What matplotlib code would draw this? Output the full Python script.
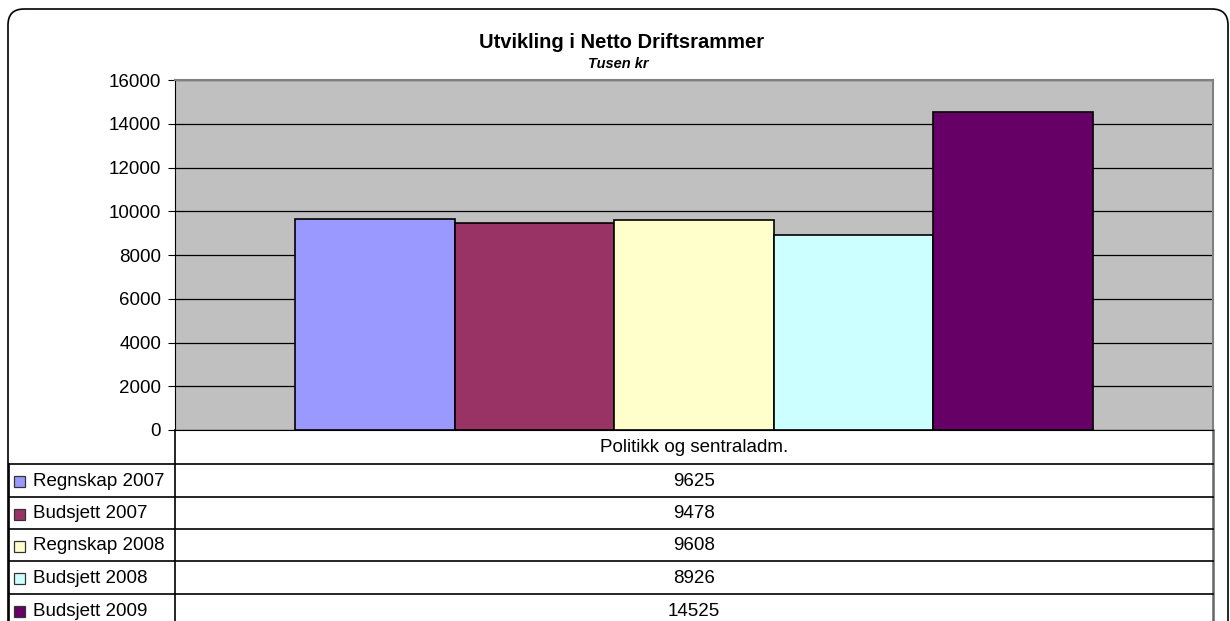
import matplotlib
matplotlib.use("Agg")
import matplotlib.pyplot as plt
from matplotlib.patches import FancyBboxPatch, Rectangle

plt.rcParams['font.family'] = ['Liberation Sans', 'DejaVu Sans']

category = "Politikk og sentraladm."
series = ["Regnskap 2007", "Budsjett 2007", "Regnskap 2008", "Budsjett 2008", "Budsjett 2009"]
values = [9625, 9478, 9608, 8926, 14525]
colors = ["#9999FF", "#993366", "#FFFFCC", "#CCFFFF", "#660066"]
yticks = [0, 2000, 4000, 6000, 8000, 10000, 12000, 14000, 16000]
title = "Utvikling i Netto Driftsrammer"
subtitle = "Tusen kr"

W, H = 1230, 621
fig = plt.figure(figsize=(W / 100, H / 100), dpi=100)

# overlay in pixel coordinates
ov = fig.add_axes([0, 0, 1, 1])
ov.set_xlim(0, W)
ov.set_ylim(H, 0)
ov.axis('off')

# outer rounded border
ov.add_patch(FancyBboxPatch((8, 9), 1220, 700, boxstyle="round,pad=0,rounding_size=16",
                            fill=False, edgecolor='black', linewidth=1.2))

# plot area
L, R, T, B = 175, 1213, 80, 430
ax = fig.add_axes([L / W, (H - B) / H, (R - L) / W, (B - T) / H])
ax.set_facecolor('#C0C0C0')
ax.set_xlim(0, 1)
ax.set_ylim(0, 16000)
ax.set_yticks(yticks)
ax.set_yticklabels([str(t) for t in yticks], fontsize=13.5)
ax.yaxis.grid(True, color='black', linewidth=0.9)
ax.set_axisbelow(True)
ax.tick_params(axis='y', length=5, width=0.8, pad=5)
ax.set_xticks([])
for s in ['top', 'right']:
    ax.spines[s].set_color('#808080')
    ax.spines[s].set_linewidth(1.5)
ax.spines['left'].set_color('black')
ax.spines['bottom'].set_color('black')

n = len(values)
bw = 0.7685 / n
for i, (v, c) in enumerate(zip(values, colors)):
    ax.bar(0.5 + (i - (n - 1) / 2) * bw, v, width=bw, color=c, edgecolor='black', linewidth=1.2, zorder=3)

# title
ov.text(622, 42, title, ha='center', va='center', fontsize=14.5, fontweight='bold')
ov.text(618, 64, subtitle, ha='center', va='center', fontsize=10.5, fontweight='bold', style='italic')

# data table
row_b = [430, 464, 497, 529, 561, 594, 627]
lw = 1.2
ov.plot([L, L], [B, H], color='black', lw=lw)
ov.plot([9, 9], [row_b[1], H], color='black', lw=lw)
ov.plot([R, R], [B, H], color='#666666', lw=1.8)
for yb in row_b[1:6]:
    ov.plot([9, R], [yb, yb], color='black', lw=lw)
ov.text((L + R) / 2, (row_b[0] + row_b[1]) / 2 + 1, category, ha='center', va='center', fontsize=13.5)
for i, (name, v, c) in enumerate(zip(series, values, colors)):
    yc = (row_b[i + 1] + row_b[i + 2]) / 2 + 1
    ov.add_patch(Rectangle((14, yc - 5.5), 11, 11, facecolor=c, edgecolor='#333333', lw=0.9))
    ov.text(33, yc, name, ha='left', va='center', fontsize=13.5)
    ov.text((L + R) / 2, yc, str(v), ha='center', va='center', fontsize=13.5)

fig.savefig("out.png", dpi=100)
